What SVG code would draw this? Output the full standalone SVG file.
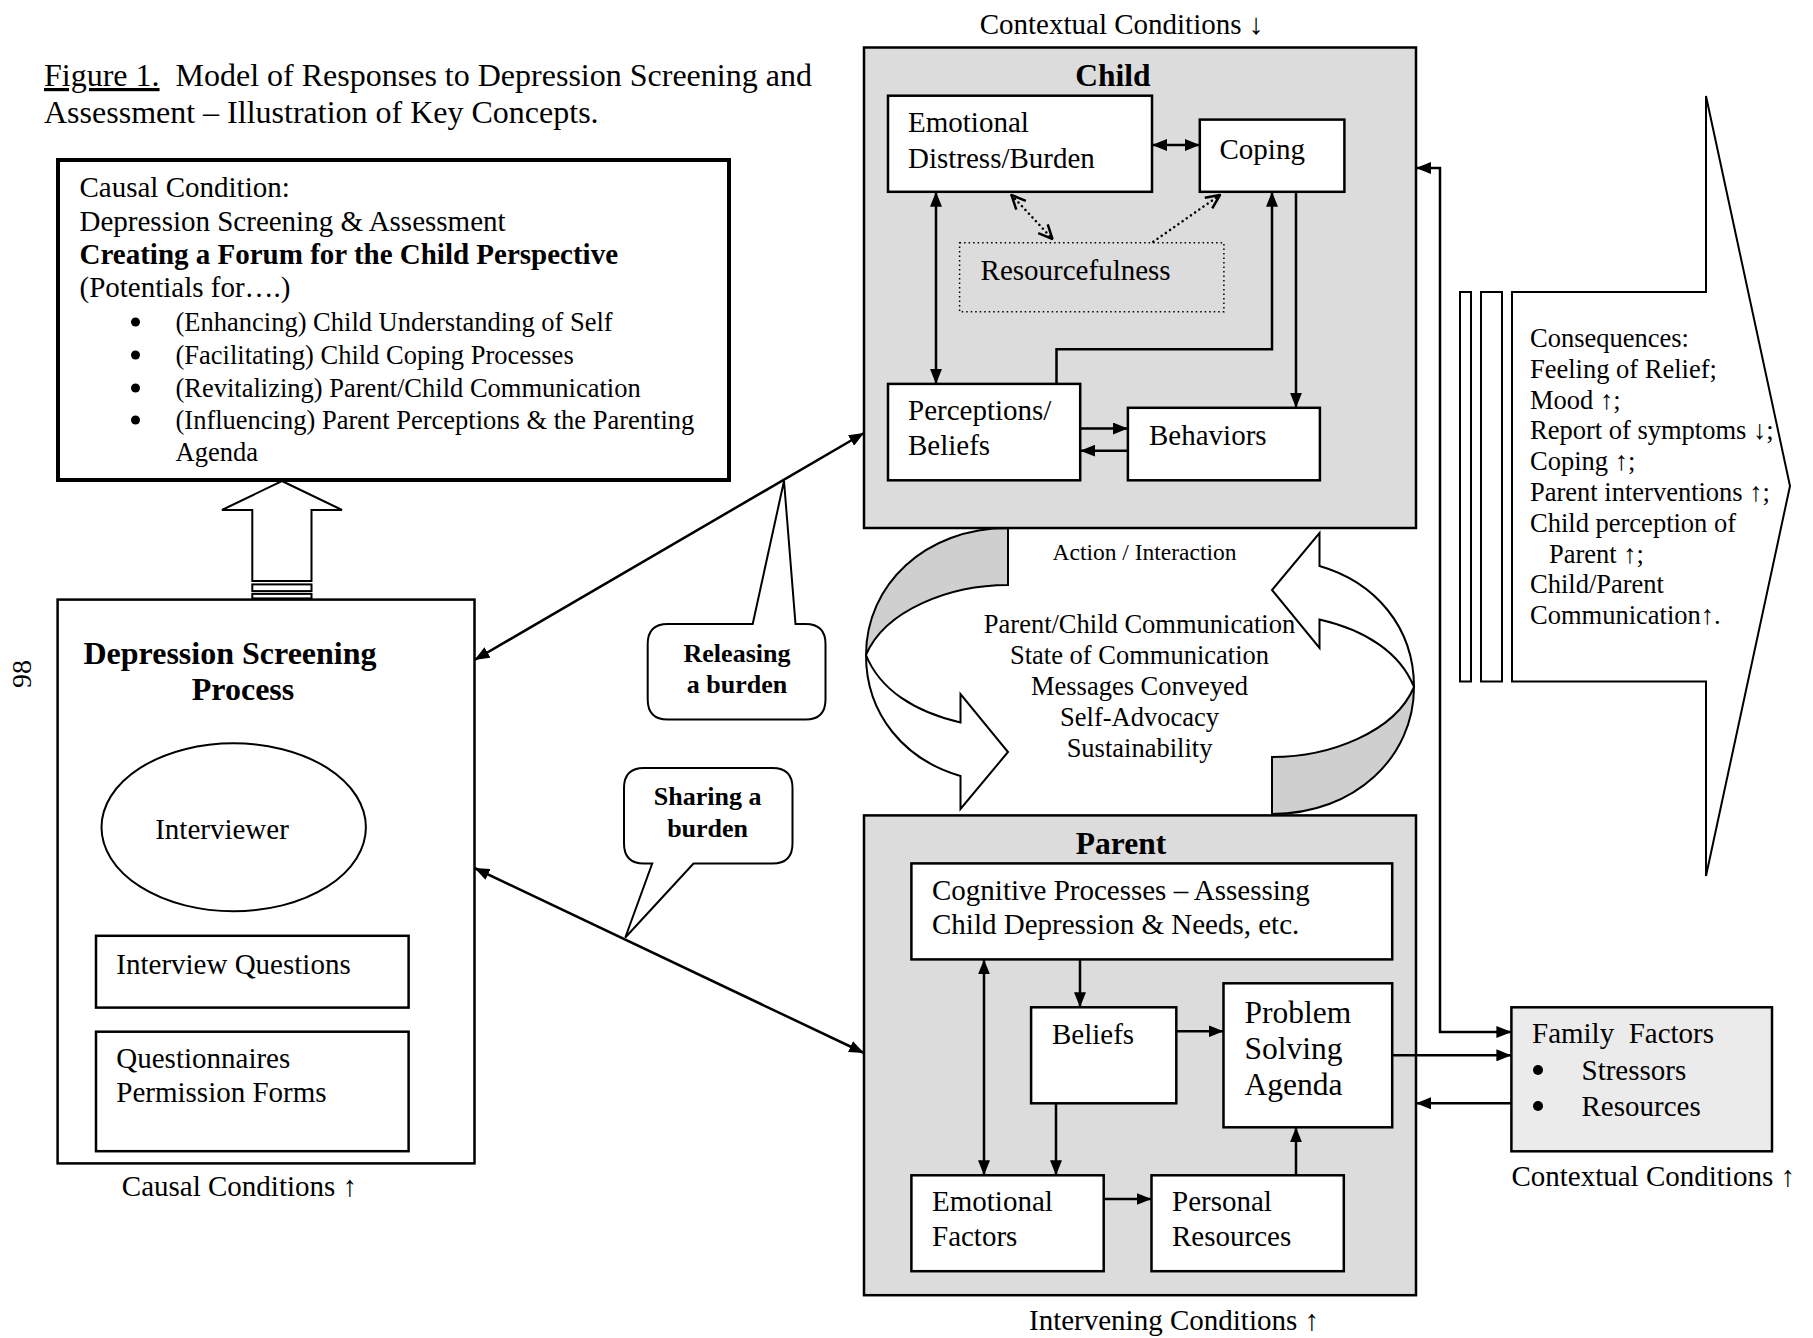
<svg xmlns="http://www.w3.org/2000/svg" width="1813" height="1338" viewBox="0 0 1813 1338">
  <style>
    text { font-family: "Liberation Serif", "Times New Roman", serif; fill: #000; }
    .f29 { font-size: 29px; }
    .f26 { font-size: 26.5px; }
    .f23 { font-size: 23.5px; }
    .b { font-weight: bold; }
    .mid { text-anchor: middle; }
    .box { fill: #fff; stroke: #000; stroke-width: 2.5; }
    .panel { fill: #dcdcdc; stroke: #000; stroke-width: 2.5; }
    .ln { fill: none; stroke: #000; stroke-width: 2.5; }
    .dot { fill: none; stroke: #000; stroke-width: 2.5; stroke-dasharray: 0.1 5; stroke-linecap: round; }
    .shape { fill: #fff; stroke: #000; stroke-width: 2; }
    .back { fill: #cfcfcf; stroke: #000; stroke-width: 2; }
    .bullet { fill: #000; }
  </style>
  <defs>
    <marker id="ah" viewBox="0 0 15 12" refX="15" refY="6" markerWidth="15" markerHeight="12" markerUnits="userSpaceOnUse" orient="auto-start-reverse">
      <path d="M0,0 L15,6 L0,12 Z" fill="#000"/>
    </marker>
    <marker id="oh" viewBox="0 0 16 16" refX="15" refY="8" markerWidth="16" markerHeight="16" markerUnits="userSpaceOnUse" orient="auto-start-reverse">
      <path d="M1,1.5 L15,8 L1,14.5" fill="none" stroke="#000" stroke-width="2.5"/>
    </marker>
    <!-- one half of the circular action/interaction arrow -->
    <g id="ribbon">
      <path class="shape" d="M866,655 C880,690 915,712 960.5,722.5 L960.5,694 L1008,752 L960.5,809 L960.5,776 C905,760 866,715 866,655 Z"/>
      <path class="back" d="M1008,528 C925,528 866,585 866,655 C885,610 950,585 1008,585 Z"/>
    </g>
  </defs>

  <rect width="1813" height="1338" fill="#fff"/>

  <!-- caption -->
  <g id="caption">
    <text x="44" y="86" style="font-size:32px" xml:space="preserve"><tspan text-decoration="underline">Figure 1.</tspan>  Model of Responses to Depression Screening and</text>
    <text x="44" y="123" style="font-size:32px">Assessment – Illustration of Key Concepts.</text>
  </g>

  <!-- page number -->
  <text transform="translate(31,674) rotate(-90)" class="mid" style="font-size:28px">98</text>

  <!-- causal condition -->
  <g id="causal-condition">
    <rect x="58" y="160" width="671" height="320" fill="#fff" stroke="#000" stroke-width="4"/>
    <text class="f29" x="79.5" y="197">Causal Condition:</text>
    <text class="f29" x="79.5" y="231">Depression Screening &amp; Assessment</text>
    <text class="f29 b" x="79.5" y="264">Creating a Forum for the Child Perspective</text>
    <text class="f29" x="79.5" y="297">(Potentials for….)</text>
    <g class="f26">
      <circle class="bullet" cx="135.5" cy="322" r="4.5"/>
      <text x="175.5" y="331">(Enhancing) Child Understanding of Self</text>
      <circle class="bullet" cx="135.5" cy="355" r="4.5"/>
      <text x="175.5" y="364">(Facilitating) Child Coping Processes</text>
      <circle class="bullet" cx="135.5" cy="388" r="4.5"/>
      <text x="175.5" y="397">(Revitalizing) Parent/Child Communication</text>
      <circle class="bullet" cx="135.5" cy="420" r="4.5"/>
      <text x="175.5" y="429">(Influencing) Parent Perceptions &amp; the Parenting</text>
      <text x="175.5" y="461">Agenda</text>
    </g>
  </g>

  <!-- block arrow from the screening process up to the causal condition -->
  <g id="up-arrow">
    <polygon class="shape" points="281.9,481 342,510 311.5,510 311.5,581 252.3,581 252.3,510 222,510"/>
    <rect class="shape" x="252.3" y="584.4" width="59.2" height="6.7"/>
    <rect class="shape" x="252.3" y="593.9" width="59.2" height="4.5"/>
  </g>

  <!-- depression screening process -->
  <g id="screening-process">
    <rect x="57.6" y="599.6" width="416.9" height="563.8" fill="#fff" stroke="#000" stroke-width="2.5"/>
    <text class="b mid" x="230" y="664" style="font-size:32px">Depression Screening</text>
    <text class="b mid" x="243" y="700" style="font-size:32px">Process</text>
  </g>
  <g id="interviewer">
    <ellipse cx="233.7" cy="827.3" rx="132.2" ry="84" fill="#fff" stroke="#000" stroke-width="2"/>
    <text class="f29" x="155.2" y="839">Interviewer</text>
  </g>
  <g id="interview-questions">
    <rect class="box" x="96" y="935.8" width="312.6" height="71.8"/>
    <text class="f29" x="116.3" y="974">Interview Questions</text>
  </g>
  <g id="questionnaires">
    <rect class="box" x="96" y="1031.7" width="312.6" height="119.5"/>
    <text class="f29" x="116.3" y="1068">Questionnaires</text>
    <text class="f29" x="116.3" y="1102">Permission Forms</text>
  </g>
  <text class="f29" x="121.8" y="1196">Causal Conditions ↑</text>

  <!-- action / interaction cycle -->
  <g id="interaction-cycle">
    <use href="#ribbon"/>
    <use href="#ribbon" transform="rotate(180 1140 671)"/>
    <text class="f23 mid" x="1144.5" y="560">Action / Interaction</text>
    <g class="f26">
      <text class="mid" x="1139.5" y="633">Parent/Child Communication</text>
      <text class="mid" x="1139.5" y="664">State of Communication</text>
      <text class="mid" x="1139.5" y="695">Messages Conveyed</text>
      <text class="mid" x="1139.5" y="726">Self-Advocacy</text>
      <text class="mid" x="1139.5" y="757">Sustainability</text>
    </g>
  </g>

  <!-- child -->
  <text class="f29" x="979.7" y="33.5">Contextual Conditions ↓</text>
  <g id="child">
    <rect class="panel" x="864" y="47.5" width="552" height="480.5"/>
    <text class="b mid" x="1113" y="86" style="font-size:31.5px">Child</text>
  </g>
  <g id="emotional-distress">
    <rect class="box" x="888" y="95.7" width="264" height="96.1"/>
    <text class="f29" x="908" y="132">Emotional</text>
    <text class="f29" x="908" y="168">Distress/Burden</text>
  </g>
  <g id="coping">
    <rect class="box" x="1199.8" y="119.6" width="144.6" height="72.2"/>
    <text class="f29" x="1219.5" y="159">Coping</text>
  </g>
  <g id="resourcefulness">
    <rect x="959.6" y="242.8" width="264.3" height="69" fill="#dcdcdc" stroke="#000" stroke-width="1.5" stroke-dasharray="1.5 3"/>
    <text class="f29" x="980.6" y="280">Resourcefulness</text>
  </g>
  <g id="perceptions-beliefs">
    <rect class="box" x="888" y="383.9" width="192.2" height="96.4"/>
    <text class="f29" x="908" y="419.6">Perceptions/</text>
    <text class="f29" x="908" y="455.3">Beliefs</text>
  </g>
  <g id="behaviors">
    <rect class="box" x="1127.9" y="407.8" width="192" height="72.5"/>
    <text class="f29" x="1149" y="444.6">Behaviors</text>
  </g>

  <!-- parent -->
  <g id="parent">
    <rect class="panel" x="864" y="815.4" width="552" height="479.8"/>
    <text class="b mid" x="1121" y="854" style="font-size:31.5px">Parent</text>
  </g>
  <g id="cognitive-processes">
    <rect class="box" x="911.4" y="863.4" width="480.8" height="96"/>
    <text class="f29" x="932" y="900">Cognitive Processes – Assessing</text>
    <text class="f29" x="932" y="934.3">Child Depression &amp; Needs, etc.</text>
  </g>
  <g id="parent-beliefs">
    <rect class="box" x="1031.1" y="1007.3" width="145.2" height="96"/>
    <text class="f29" x="1052" y="1044">Beliefs</text>
  </g>
  <g id="problem-solving">
    <rect class="box" x="1223.5" y="983.3" width="168.7" height="144"/>
    <text x="1244.6" y="1023" style="font-size:31.5px">Problem</text>
    <text x="1244.6" y="1059" style="font-size:31.5px">Solving</text>
    <text x="1244.6" y="1095" style="font-size:31.5px">Agenda</text>
  </g>
  <g id="emotional-factors">
    <rect class="box" x="911.4" y="1175.3" width="192.3" height="95.9"/>
    <text class="f29" x="932" y="1211">Emotional</text>
    <text class="f29" x="932" y="1245.5">Factors</text>
  </g>
  <g id="personal-resources">
    <rect class="box" x="1151.5" y="1175.3" width="192.3" height="95.9"/>
    <text class="f29" x="1172" y="1211">Personal</text>
    <text class="f29" x="1172" y="1245.5">Resources</text>
  </g>
  <text class="f29" x="1029" y="1329.5">Intervening Conditions ↑</text>

  <!-- family factors -->
  <g id="family-factors">
    <rect x="1511.4" y="1007.3" width="260.6" height="144" fill="#ebebeb" stroke="#000" stroke-width="2.5"/>
    <text class="f29" x="1532" y="1043" xml:space="preserve">Family  Factors</text>
    <circle class="bullet" cx="1538" cy="1070" r="5"/>
    <text class="f29" x="1581.5" y="1080">Stressors</text>
    <circle class="bullet" cx="1538" cy="1106" r="5"/>
    <text class="f29" x="1581.5" y="1116">Resources</text>
  </g>
  <text class="f29" x="1511.4" y="1185.5">Contextual Conditions ↑</text>

  <!-- consequences -->
  <g id="consequences">
    <rect class="shape" x="1460" y="292" width="11" height="389.5"/>
    <rect class="shape" x="1481" y="292" width="21" height="389.5"/>
    <polygon class="shape" points="1512,292 1706,292 1706,96 1790,486 1706,876 1706,681.5 1512,681.5"/>
    <g class="f26">
      <text x="1530" y="347">Consequences:</text>
      <text x="1530" y="377.8">Feeling of Relief;</text>
      <text x="1530" y="408.6">Mood ↑;</text>
      <text x="1530" y="439.4">Report of symptoms ↓;</text>
      <text x="1530" y="470.2">Coping ↑;</text>
      <text x="1530" y="501">Parent interventions ↑;</text>
      <text x="1530" y="531.8">Child perception of</text>
      <text x="1549" y="562.6">Parent ↑;</text>
      <text x="1530" y="593.4">Child/Parent</text>
      <text x="1530" y="624.2">Communication↑.</text>
    </g>
  </g>

  <!-- callouts -->
  <g id="releasing-burden">
    <path class="shape" d="M667.7,624 L752.7,624 L784,481 L795.5,624 L805.5,624 Q825.5,624 825.5,644 L825.5,699.5 Q825.5,719.5 805.5,719.5 L667.7,719.5 Q647.7,719.5 647.7,699.5 L647.7,644 Q647.7,624 667.7,624 Z"/>
    <text class="b mid" x="737" y="661.6" style="font-size:26px">Releasing</text>
    <text class="b mid" x="737" y="693.4" style="font-size:26px">a burden</text>
  </g>
  <g id="sharing-burden">
    <path class="shape" d="M644,768 L772.5,768 Q792.5,768 792.5,788 L792.5,843.5 Q792.5,863.5 772.5,863.5 L693.5,863.5 L625.3,937.5 L652.2,863.5 L644,863.5 Q624,863.5 624,843.5 L624,788 Q624,768 644,768 Z"/>
    <text class="b mid" x="707.6" y="805" style="font-size:26px">Sharing a</text>
    <text class="b mid" x="707.6" y="837" style="font-size:26px">burden</text>
  </g>

  <!-- connectors -->
  <g id="connectors">
    <line class="ln" x1="474.5" y1="660" x2="864" y2="433" marker-start="url(#ah)" marker-end="url(#ah)"/>
    <line class="ln" x1="474.5" y1="868" x2="864" y2="1053" marker-start="url(#ah)" marker-end="url(#ah)"/>

    <line class="ln" x1="1152" y1="145" x2="1199.8" y2="145" marker-start="url(#ah)" marker-end="url(#ah)"/>
    <line class="ln" x1="936" y1="191.8" x2="936" y2="383.9" marker-start="url(#ah)" marker-end="url(#ah)"/>
    <polyline class="ln" points="1056.5,383.9 1056.5,349.3 1272,349.3 1272,191.8" marker-end="url(#ah)"/>
    <line class="ln" x1="1296" y1="191.8" x2="1296" y2="407.8" marker-end="url(#ah)"/>
    <line class="ln" x1="1080.2" y1="428.5" x2="1127.9" y2="428.5" marker-end="url(#ah)"/>
    <line class="ln" x1="1127.9" y1="450.7" x2="1080.2" y2="450.7" marker-end="url(#ah)"/>
    <line class="dot" x1="1011.5" y1="195" x2="1052.5" y2="239" marker-start="url(#oh)" marker-end="url(#oh)"/>
    <line class="dot" x1="1153.3" y1="241.7" x2="1220" y2="195" marker-end="url(#oh)"/>

    <line class="ln" x1="984" y1="959.4" x2="984" y2="1175.3" marker-start="url(#ah)" marker-end="url(#ah)"/>
    <line class="ln" x1="1080" y1="959.4" x2="1080" y2="1007.3" marker-end="url(#ah)"/>
    <line class="ln" x1="1056" y1="1103.3" x2="1056" y2="1175.3" marker-end="url(#ah)"/>
    <line class="ln" x1="1176.3" y1="1031.3" x2="1223.5" y2="1031.3" marker-end="url(#ah)"/>
    <line class="ln" x1="1103.7" y1="1199" x2="1151.5" y2="1199" marker-end="url(#ah)"/>
    <line class="ln" x1="1296" y1="1175.3" x2="1296" y2="1127.3" marker-end="url(#ah)"/>
    <line class="ln" x1="1392.2" y1="1055.3" x2="1511.4" y2="1055.3" marker-end="url(#ah)"/>
    <line class="ln" x1="1511.4" y1="1103.3" x2="1416" y2="1103.3" marker-end="url(#ah)"/>
    <polyline class="ln" points="1416,168 1440,168 1440,1032 1511.4,1032" marker-start="url(#ah)" marker-end="url(#ah)"/>
  </g>
</svg>
